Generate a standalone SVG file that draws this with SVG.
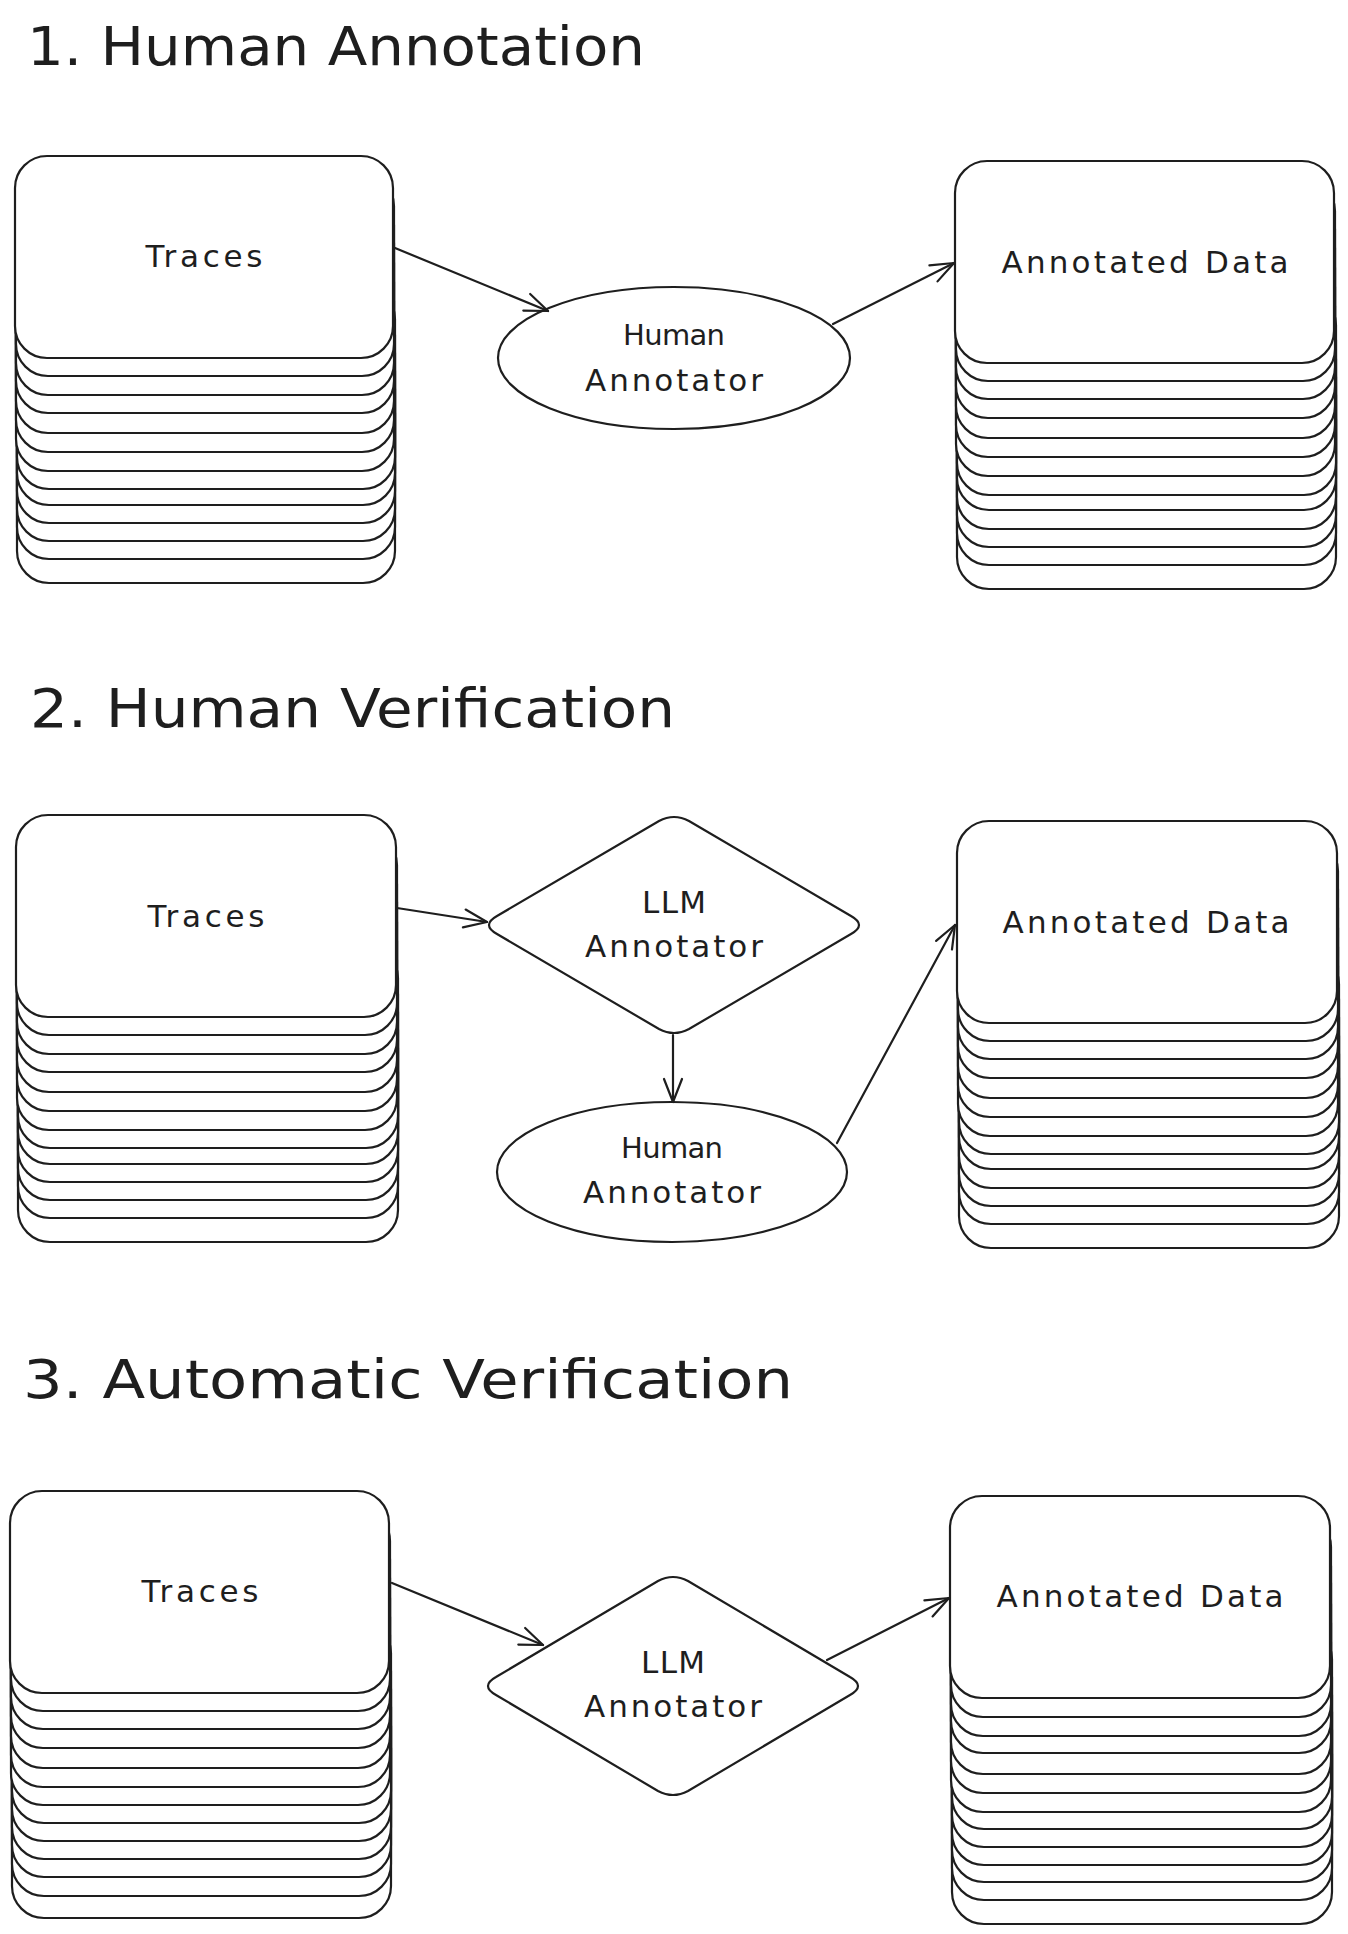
<svg xmlns="http://www.w3.org/2000/svg" width="1348" height="1934" viewBox="0 0 1348 1934">
<style>
  .card { fill: #ffffff; stroke: #1e1e1e; stroke-width: 2.2; }
  .shape { fill: #ffffff; stroke: #1e1e1e; stroke-width: 2.2; }
  .title { font-family: "DejaVu Sans", "Liberation Sans", sans-serif; font-size: 54px; fill: #1e1e1e; }
  .label { font-family: "DejaVu Sans", "Liberation Sans", sans-serif; font-size: 31px; fill: #1e1e1e; text-anchor: middle; }
  .small { font-size: 29px; }
  .conn { fill: none; stroke: #1e1e1e; stroke-width: 2.2; stroke-linecap: round; }
</style>
<defs>
  <marker id="arrow" viewBox="-28 -14 32 28" refX="0" refY="0" markerWidth="32" markerHeight="28" markerUnits="userSpaceOnUse" orient="auto">
    <path d="M-23,-9 L0,0 L-23,9" fill="none" stroke="#1e1e1e" stroke-width="2.2" stroke-linecap="round" stroke-linejoin="round"/>
  </marker>
</defs>
<rect x="0" y="0" width="1348" height="1934" fill="#ffffff"/>

<!-- Titles -->
<text class="title" x="27" y="65" textLength="618" lengthAdjust="spacingAndGlyphs">1. Human Annotation</text>
<text class="title" x="30" y="727" textLength="645" lengthAdjust="spacingAndGlyphs">2. Human Verification</text>
<text class="title" x="23" y="1398" textLength="770" lengthAdjust="spacingAndGlyphs">3. Automatic Verification</text>

<!-- Section 1 -->
<g id="traces-1">
  <rect class="card" x="17" y="381" width="378" height="202" rx="32"/>
  <rect class="card" x="17" y="357" width="378" height="202" rx="32"/>
  <rect class="card" x="17" y="339" width="378" height="202" rx="32"/>
  <rect class="card" x="17" y="321" width="378" height="202" rx="32"/>
  <rect class="card" x="17" y="303" width="378" height="202" rx="32"/>
  <rect class="card" x="17" y="287" width="378" height="202" rx="32"/>
  <rect class="card" x="16" y="269" width="378" height="202" rx="32"/>
  <rect class="card" x="16" y="250" width="378" height="202" rx="32"/>
  <rect class="card" x="16" y="231" width="378" height="202" rx="32"/>
  <rect class="card" x="16" y="211" width="378" height="202" rx="32"/>
  <rect class="card" x="16" y="193" width="378" height="202" rx="32"/>
  <rect class="card" x="16" y="174" width="378" height="202" rx="32"/>
  <rect class="card" x="15" y="156" width="378" height="202" rx="32"/>
  <text class="label" x="204" y="267" textLength="117">Traces</text>
</g>

<g id="annotator-1">
  <ellipse class="shape" cx="674" cy="358" rx="176" ry="71"/>
  <text class="label small" x="674" y="345" textLength="102">Human</text>
  <text class="label" x="674" y="391" textLength="178">Annotator</text>
</g>

<g id="annotated-1">
  <rect class="card" x="957" y="387" width="379" height="202" rx="32"/>
  <rect class="card" x="957" y="363" width="379" height="202" rx="32"/>
  <rect class="card" x="957" y="345" width="379" height="202" rx="32"/>
  <rect class="card" x="957" y="327" width="379" height="202" rx="32"/>
  <rect class="card" x="957" y="308" width="379" height="202" rx="32"/>
  <rect class="card" x="957" y="293" width="379" height="202" rx="32"/>
  <rect class="card" x="956" y="274" width="379" height="202" rx="32"/>
  <rect class="card" x="956" y="255" width="379" height="202" rx="32"/>
  <rect class="card" x="956" y="236" width="379" height="202" rx="32"/>
  <rect class="card" x="956" y="216" width="379" height="202" rx="32"/>
  <rect class="card" x="956" y="197" width="379" height="202" rx="32"/>
  <rect class="card" x="956" y="179" width="379" height="202" rx="32"/>
  <rect class="card" x="955" y="161" width="379" height="202" rx="32"/>
  <text class="label" x="1145" y="273" textLength="287">Annotated Data</text>
</g>

<!-- Section 2 -->
<g id="traces-2">
  <rect class="card" x="18" y="1040" width="380" height="202" rx="32"/>
  <rect class="card" x="18" y="1016" width="380" height="202" rx="32"/>
  <rect class="card" x="18" y="998" width="380" height="202" rx="32"/>
  <rect class="card" x="18" y="980" width="380" height="202" rx="32"/>
  <rect class="card" x="18" y="962" width="380" height="202" rx="32"/>
  <rect class="card" x="18" y="946" width="380" height="202" rx="32"/>
  <rect class="card" x="17" y="928" width="380" height="202" rx="32"/>
  <rect class="card" x="17" y="909" width="380" height="202" rx="32"/>
  <rect class="card" x="17" y="890" width="380" height="202" rx="32"/>
  <rect class="card" x="17" y="870" width="380" height="202" rx="32"/>
  <rect class="card" x="17" y="852" width="380" height="202" rx="32"/>
  <rect class="card" x="17" y="833" width="380" height="202" rx="32"/>
  <rect class="card" x="16" y="815" width="380" height="202" rx="32"/>
  <text class="label" x="206" y="927" textLength="117">Traces</text>
</g>

<g id="llm-annotator-2">
  <path class="shape" d="M689,821 L851,916 Q867,925 851,934 L689,1029 Q674,1037 659,1029 L497,934 Q481,925 497,916 L659,821 Q674,813 689,821 Z"/>
  <text class="label" x="674" y="913" textLength="64">LLM</text>
  <text class="label" x="674" y="957" textLength="178">Annotator</text>
</g>

<g id="annotator-2">
  <ellipse class="shape" cx="672" cy="1172" rx="175" ry="70"/>
  <text class="label small" x="672" y="1158" textLength="102">Human</text>
  <text class="label" x="672" y="1203" textLength="178">Annotator</text>
</g>

<g id="annotated-2">
  <rect class="card" x="959" y="1046" width="380" height="202" rx="32"/>
  <rect class="card" x="959" y="1022" width="380" height="202" rx="32"/>
  <rect class="card" x="959" y="1004" width="380" height="202" rx="32"/>
  <rect class="card" x="959" y="986" width="380" height="202" rx="32"/>
  <rect class="card" x="959" y="967" width="380" height="202" rx="32"/>
  <rect class="card" x="959" y="952" width="380" height="202" rx="32"/>
  <rect class="card" x="958" y="934" width="380" height="202" rx="32"/>
  <rect class="card" x="958" y="915" width="380" height="202" rx="32"/>
  <rect class="card" x="958" y="896" width="380" height="202" rx="32"/>
  <rect class="card" x="958" y="876" width="380" height="202" rx="32"/>
  <rect class="card" x="958" y="857" width="380" height="202" rx="32"/>
  <rect class="card" x="958" y="839" width="380" height="202" rx="32"/>
  <rect class="card" x="957" y="821" width="380" height="202" rx="32"/>
  <text class="label" x="1146" y="933" textLength="287">Annotated Data</text>
</g>

<!-- Section 3 -->
<g id="traces-3">
  <rect class="card" x="12" y="1716" width="379" height="202" rx="32"/>
  <rect class="card" x="12" y="1694" width="379" height="202" rx="32"/>
  <rect class="card" x="12" y="1675" width="379" height="202" rx="32"/>
  <rect class="card" x="12" y="1657" width="379" height="202" rx="32"/>
  <rect class="card" x="12" y="1639" width="379" height="202" rx="32"/>
  <rect class="card" x="12" y="1621" width="379" height="202" rx="32"/>
  <rect class="card" x="11" y="1603" width="379" height="202" rx="32"/>
  <rect class="card" x="11" y="1585" width="379" height="202" rx="32"/>
  <rect class="card" x="11" y="1566" width="379" height="202" rx="32"/>
  <rect class="card" x="11" y="1546" width="379" height="202" rx="32"/>
  <rect class="card" x="11" y="1527" width="379" height="202" rx="32"/>
  <rect class="card" x="11" y="1509" width="379" height="202" rx="32"/>
  <rect class="card" x="10" y="1491" width="379" height="202" rx="32"/>
  <text class="label" x="200" y="1602" textLength="117">Traces</text>
</g>

<g id="llm-annotator-3">
  <path class="shape" d="M688,1581 L850,1677 Q866,1686 850,1695 L688,1791 Q673,1799 658,1791 L496,1695 Q480,1686 496,1677 L658,1581 Q673,1573 688,1581 Z"/>
  <text class="label" x="673" y="1673" textLength="64">LLM</text>
  <text class="label" x="673" y="1717" textLength="178">Annotator</text>
</g>

<g id="annotated-3">
  <rect class="card" x="952" y="1722" width="380" height="202" rx="32"/>
  <rect class="card" x="952" y="1698" width="380" height="202" rx="32"/>
  <rect class="card" x="952" y="1680" width="380" height="202" rx="32"/>
  <rect class="card" x="952" y="1663" width="380" height="202" rx="32"/>
  <rect class="card" x="952" y="1645" width="380" height="202" rx="32"/>
  <rect class="card" x="952" y="1627" width="380" height="202" rx="32"/>
  <rect class="card" x="951" y="1610" width="380" height="202" rx="32"/>
  <rect class="card" x="951" y="1591" width="380" height="202" rx="32"/>
  <rect class="card" x="951" y="1572" width="380" height="202" rx="32"/>
  <rect class="card" x="951" y="1551" width="380" height="202" rx="32"/>
  <rect class="card" x="951" y="1534" width="380" height="202" rx="32"/>
  <rect class="card" x="951" y="1515" width="380" height="202" rx="32"/>
  <rect class="card" x="950" y="1496" width="380" height="202" rx="32"/>
  <text class="label" x="1140" y="1607" textLength="287">Annotated Data</text>
</g>

<!-- Connectors -->
<g id="connectors">
  <path class="conn" d="M395,248 L548,311" marker-end="url(#arrow)"/>
  <path class="conn" d="M833,324 L954,263" marker-end="url(#arrow)"/>
  <path class="conn" d="M397,908 L487,922" marker-end="url(#arrow)"/>
  <path class="conn" d="M673,1035 L673,1102" marker-end="url(#arrow)"/>
  <path class="conn" d="M837,1143 L955,925" marker-end="url(#arrow)"/>
  <path class="conn" d="M392,1583 L543,1645" marker-end="url(#arrow)"/>
  <path class="conn" d="M827,1660 L949,1598" marker-end="url(#arrow)"/>
</g>
</svg>
